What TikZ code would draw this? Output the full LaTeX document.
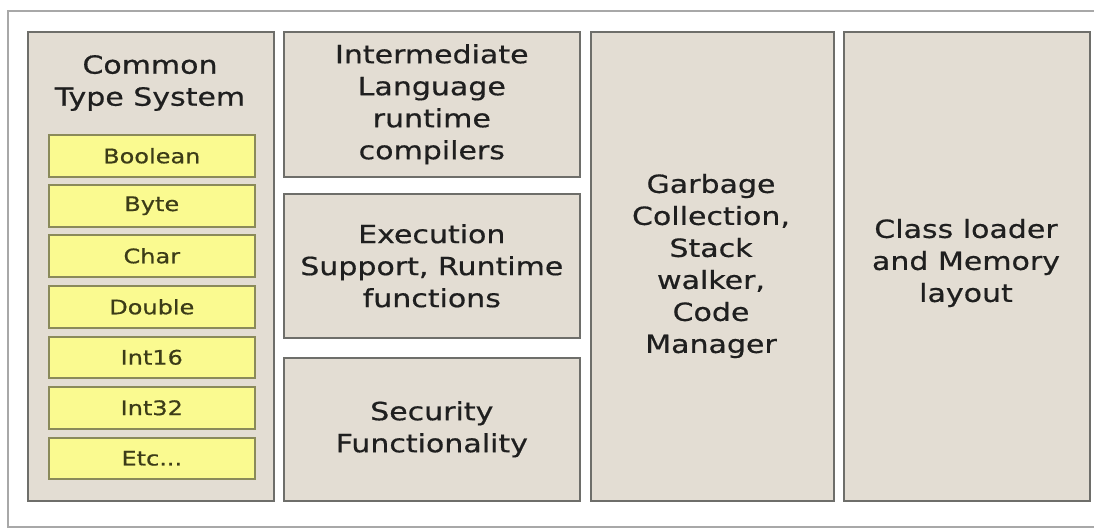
\documentclass[tikz,border=0pt]{standalone}
\usepackage{fontspec}
\setmainfont{DejaVu Sans}[FakeStretch=1.2, FakeBold=0.6]
\definecolor{panelfill}{HTML}{E3DDD3}
\definecolor{panelline}{HTML}{6E6E6A}
\definecolor{yfill}{HTML}{FAFA90}
\definecolor{yline}{HTML}{8A8A5A}
\definecolor{ytext}{HTML}{3C3C18}
\definecolor{frameline}{HTML}{A8A8A8}
\tikzset{
  panel/.style={draw=panelline, fill=panelfill, line width=1.6pt, anchor=north west, inner sep=0pt},
  ybox/.style={draw=yline, fill=yfill, line width=1.6pt, anchor=north west, inner sep=0pt, minimum width=206pt},
  ylbl/.style={font=\fontsize{20}{22}\selectfont, text=ytext},
  lbl/.style={align=center, font=\fontsize{25}{32}\selectfont, text=black!88},
}
\begin{document}
\begin{tikzpicture}[x=1pt,y=-1pt]
\useasboundingbox[fill=white] (0,0) rectangle (1094,531);
% outer frame
\coordinate (f1) at (1094,11);
\coordinate (f2) at (8,11);
\coordinate (f3) at (8,527);
\coordinate (f4) at (1094,527);
\draw[frameline, line width=2pt] (f1) -- (f2) -- (f3) -- (f4);
% column 1
\node[panel, minimum width=246pt, minimum height=469pt] (cts) at (27,31) {};
\node[lbl] (ctst) at (150,83) {Common\\Type System};
\node[ybox, minimum height=42pt] (b1) at (48,134) {};
\node[ylbl] at (b1.center) {Boolean};
\node[ybox, minimum height=42pt] (b2) at (48,184) {};
\node[ylbl] at (b2.center) {Byte};
\node[ybox, minimum height=42pt] (b3) at (48,234) {};
\node[ylbl] at (b3.center) {Char};
\node[ybox, minimum height=42pt] (b4) at (48,285) {};
\node[ylbl] at (b4.center) {Double};
\node[ybox, minimum height=41pt] (b5) at (48,336) {};
\node[ylbl] at (b5.center) {Int16};
\node[ybox, minimum height=42pt] (b6) at (48,386) {};
\node[ylbl] at (b6.center) {Int32};
\node[ybox, minimum height=41pt] (b7) at (48,437) {};
\node[ylbl] at (b7.center) {Etc...};
% column 2
\node[panel, minimum width=296pt, minimum height=145pt] (il) at (283,31) {};
\node[lbl] at (il.center) {Intermediate\\Language\\runtime\\compilers};
\node[panel, minimum width=296pt, minimum height=144pt] (ex) at (283,193) {};
\node[lbl] at (ex.center) {Execution\\Support, Runtime\\functions};
\node[panel, minimum width=296pt, minimum height=143pt] (sec) at (283,357) {};
\node[lbl] at (sec.center) {Security\\Functionality};
% column 3
\node[panel, minimum width=243pt, minimum height=469pt] (gc) at (590,31) {};
\node[lbl] at (711,266) {Garbage\\Collection,\\Stack\\walker,\\Code\\Manager};
% column 4
\node[panel, minimum width=246pt, minimum height=469pt] (cl) at (843,31) {};
\node[lbl] at (966,263) {Class loader\\and Memory\\layout};
\end{tikzpicture}
\end{document}
